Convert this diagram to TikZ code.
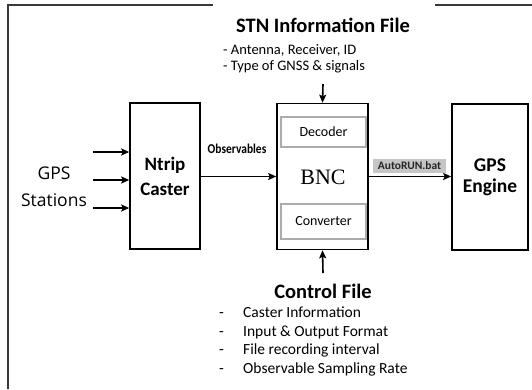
\documentclass[tikz,border=0pt]{standalone}
\usepackage{fontspec}
\setmainfont{Carlito}
\newfontfamily\bncfont{Liberation Serif}
\newfontfamily\gpsfont{Open Sans}
\newfontfamily\condfont[FakeStretch=0.85]{Carlito}
\newcommand{\fsz}[1]{\fontsize{#1}{1.3\dimexpr#1pt\relax}\selectfont}
\usetikzlibrary{positioning, arrows.meta}

\begin{document}
\begin{tikzpicture}[>={Stealth[length=8pt, width=7pt, inset=1.5pt]}, x=1pt, y=-1pt,
		blockbox/.style={draw, line width=1.6pt, minimum height=146pt, inner sep=0pt, align=center},
		partbox/.style={draw=gray!65, line width=2.4pt, fill=white, minimum width=85pt, font=\fsz{14}},
		flow/.style={->, line width=1.6pt},
		bullet/.style={anchor=base west, inner sep=0pt, font=\fsz{15.5}}]
	\useasboundingbox (0,0) rectangle (532,389);
	% frame and white patches behind the file notes
	\draw[line width=1.6pt, gray!45!black] (532,5) -- (8,5) -- (8,389);
	\fill[white] (213,0) rectangle (435,80);
	\fill[white] (210,273) rectangle (433,389);

	% blocks
	\node[blockbox, minimum width=70pt, font=\bfseries\fontsize{19}{25}\selectfont] (ntrip) at (165,176) {Ntrip\\Caster};
	\node[blockbox, minimum width=91pt] (bnc) at (322.5,176.5) {};
	\node[blockbox, minimum width=76pt, font=\bfseries\fontsize{19.5}{21}\selectfont] (engine) at (490,177) {GPS\\Engine};
	\node[partbox, minimum height=30pt] (decoder) at (323.5,132) {Decoder};
	\node[partbox, minimum height=35pt] (converter) at (323.5,221.5) {Converter};
	\node[anchor=base, inner sep=0pt, font=\bncfont\fsz{22}] (bnclabel) at (323,184) {BNC};

	% GPS stations
	\node[align=center, font=\gpsfont\fontsize{17.5}{27}\selectfont] (gps) at (54,187) {GPS\\Stations};
	\foreach \y [count=\i] in {152,180,208} {
		\coordinate (in\i) at (93,\y);
		\draw[flow] (in\i) -- (in\i -| ntrip.west);
	}

	% data flow
	\draw[flow] (ntrip.east |- bnc) -- (bnc.west);
	\node[anchor=base, inner sep=0pt, font=\condfont\bfseries\fsz{13.5}] (obs) at (237,153) {Observables};
	\draw[flow] (bnc.east) -- (engine.west |- bnc);
	\node[fill=gray!45, inner sep=1pt, minimum width=73pt, minimum height=14pt, font=\bfseries\fsz{11.5}, text=black!85] (autorun) at (409.5,165.5) {AutoRUN.bat};

	% STN information file
	\node[anchor=base, inner sep=0pt, font=\bfseries\fsz{20.5}] (stn) at (323,32) {STN Information File};
	\node[bullet, font=\fsz{14.5}] (stn1) at (223,54) {- Antenna, Receiver, ID};
	\node[bullet, font=\fsz{14.5}] (stn2) at (223,70) {- Type of GNSS \& signals};
	\coordinate (stnin) at (323,84);
	\draw[flow] (stnin) -- (bnc.north);

	% control file
	\coordinate (ctrlin) at (323,273);
	\draw[flow] (ctrlin) -- (bnc.south);
	\node[anchor=base, inner sep=0pt, font=\bfseries\fsz{20.5}] (ctrl) at (323,298) {Control File};
	\foreach \t [count=\i] in {Caster Information, Input \& Output Format, File recording interval, Observable Sampling Rate} {
		\node[bullet] (dash\i) at (219,299+18.6*\i) {-};
		\node[bullet] (ctrl\i) at (243,299+18.6*\i) {\t};
	}
\end{tikzpicture}
\end{document}
